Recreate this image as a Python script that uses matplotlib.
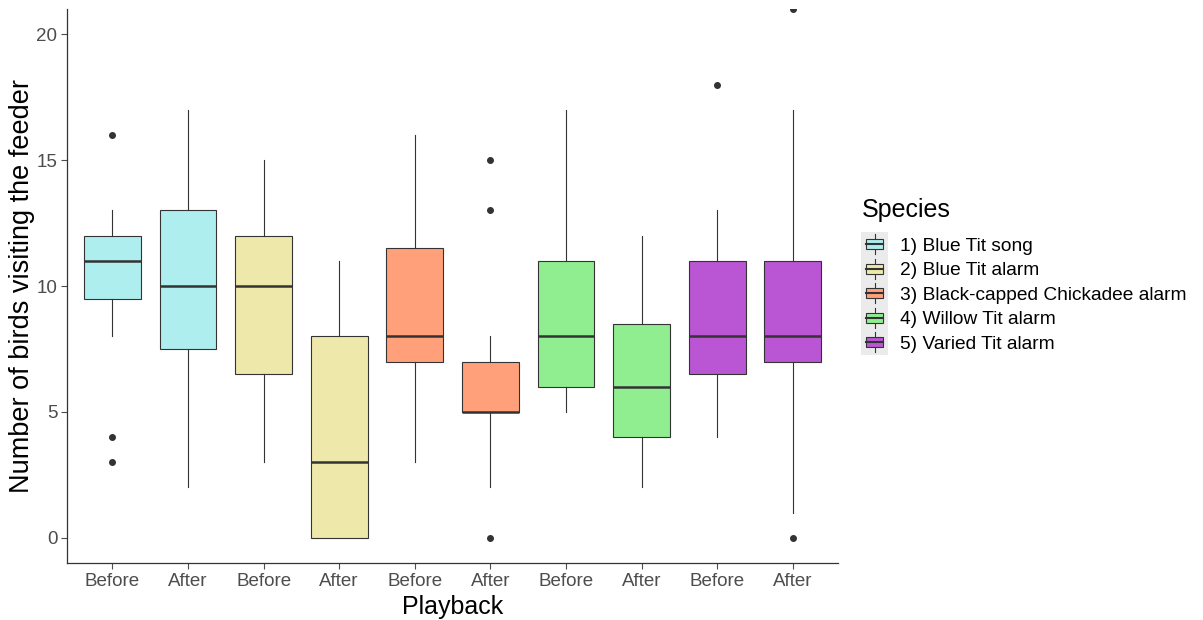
import matplotlib.pyplot as plt
from matplotlib.legend_handler import HandlerBase
from matplotlib.patches import Rectangle
from matplotlib.lines import Line2D

plt.rcParams['font.family'] = ['Liberation Sans', 'DejaVu Sans']

species = ["1) Blue Tit song", "2) Blue Tit alarm", "3) Black-capped Chickadee alarm",
           "4) Willow Tit alarm", "5) Varied Tit alarm"]
colors = ["#AFEEEE", "#EEE8AA", "#FFA07A", "#90EE90", "#BA55D3"]
playback = ["Before", "After"] * 5

# box stats per group, left to right
q1 = [9.5, 7.5, 6.5, 0, 7, 5, 6, 4, 6.5, 7]
med = [11, 10, 10, 3, 8, 5, 8, 6, 8, 8]
q3 = [12, 13, 12, 8, 11.5, 7, 11, 8.5, 11, 11]
whislo = [8, 2, 3, 0, 3, 2, 5, 2, 4, 1]
whishi = [13, 17, 15, 11, 16, 8, 17, 12, 13, 17]
fliers = [[16, 4, 3], [], [], [], [], [15, 13, 0], [], [], [18], [21, 0]]

edge = "#333333"
LEG_FS = 13.8
LEG_SPACING = 0.22


class BoxHandler(HandlerBase):
    def create_artists(self, legend, orig_handle, xdescent, ydescent,
                       width, height, fontsize, trans):
        x0, y0 = -xdescent, -ydescent
        gap = LEG_SPACING * fontsize
        bg = Rectangle((x0, y0 - gap / 2 - 0.3), width, height + gap + 0.6,
                       facecolor="#EBEBEB", edgecolor="none", transform=trans)
        bw, bh = width * 0.62, height * 0.5
        bx, by = x0 + (width - bw) / 2, y0 + (height - bh) / 2
        cx = x0 + width / 2
        wl = Line2D([cx, cx], [y0, by], color=edge, lw=0.8, transform=trans)
        wh = Line2D([cx, cx], [by + bh, y0 + height], color=edge, lw=0.8, transform=trans)
        box = Rectangle((bx, by), bw, bh, facecolor=orig_handle.get_facecolor(),
                        edgecolor=edge, lw=0.8, transform=trans)
        md = Line2D([bx, bx + bw], [by + bh / 2, by + bh / 2], color=edge, lw=1.5,
                    transform=trans)
        return [bg, wl, wh, box, md]


fig = plt.figure(figsize=(12.03, 6.2), dpi=100)
ax = fig.add_axes([0.0557, 0.0919, 0.641, 0.8936])

stats = []
for i in range(len(q1)):
    stats.append({"q1": q1[i], "med": med[i], "q3": q3[i], "whislo": whislo[i],
                  "whishi": whishi[i], "fliers": fliers[i], "label": playback[i]})

positions = list(range(1, len(stats) + 1))
res = ax.bxp(stats, positions=positions, widths=0.75, showcaps=False, patch_artist=True,
             boxprops=dict(edgecolor=edge, linewidth=0.8),
             whiskerprops=dict(color=edge, linewidth=0.8),
             medianprops=dict(color=edge, linewidth=1.8),
             flierprops=dict(marker="o", markersize=4, markerfacecolor=edge,
                             markeredgecolor=edge, linestyle="none"))
for i, patch in enumerate(res["boxes"]):
    patch.set_facecolor(colors[i // 2])
for fl in res["fliers"]:
    fl.set_clip_on(True)

ax.set_xlim(0.4, 10.6)
ax.set_ylim(-1, 21)
ax.set_yticks([0, 5, 10, 15, 20])
ax.set_xticks(positions)
ax.set_xticklabels(playback)
ax.tick_params(axis="both", colors="#4D4D4D", labelsize=13.5, length=4, width=0.8,
               labelcolor="#4D4D4D", pad=3)
for s in ["top", "right"]:
    ax.spines[s].set_visible(False)
for s in ["left", "bottom"]:
    ax.spines[s].set_color("#333333")
    ax.spines[s].set_linewidth(0.9)

ax.set_xlabel("Playback", fontsize=18, labelpad=4)
ax.set_ylabel("Number of birds visiting the feeder", fontsize=19.5, labelpad=1)

handles = [Rectangle((0, 0), 1, 1, facecolor=c) for c in colors]
leg = fig.legend(handles, species, handler_map={Rectangle: BoxHandler()},
                 loc="center left", bbox_to_anchor=(0.716, 0.556), frameon=False,
                 title="Species", title_fontsize=18, fontsize=LEG_FS,
                 handlelength=1.4, handleheight=1.2, labelspacing=LEG_SPACING,
                 handletextpad=0.6, borderpad=0, borderaxespad=0)
leg._legend_box.align = "left"
leg._legend_box.sep = 9

fig.savefig("out.png", dpi=100)
